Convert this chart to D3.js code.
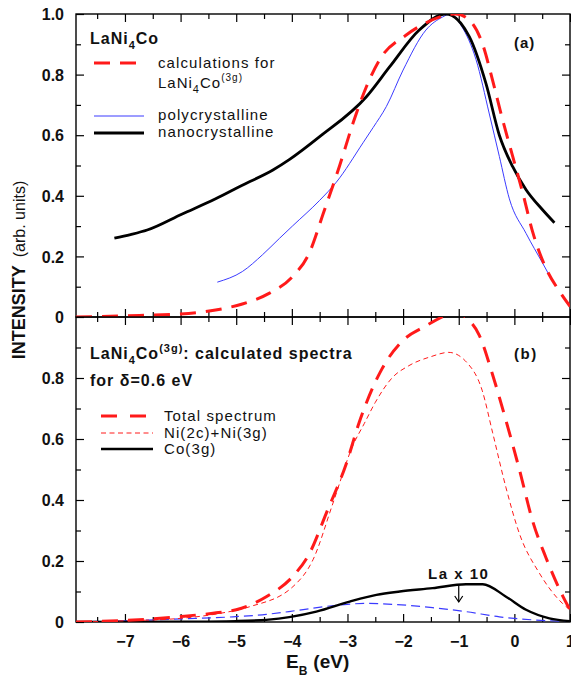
<!DOCTYPE html>
<html>
<head>
<meta charset="utf-8">
<script src="https://cdn.jsdelivr.net/npm/d3@7"></script>
<style>
  body { margin: 0; background: #fff; }
  svg text { font-family: Arial, "Liberation Sans", sans-serif; }
</style>
</head>
<body>
<div id="chart"></div>
<script>
// panel (a): measured + calculated spectra
var calcE = [-7.88, -7, -6, -5.37, -4.89, -4.41, -3.99, -3.69, -3.42, -3.14, -2.9, -2.66, -2.42, -1.95, -1.65, -1.05, -0.81, -0.57, -0.39, -0.21, -0.03, 0.15, 0.33, 0.57, 0.81, 1.0];
var calcI = [0.0, 0.004, 0.01, 0.023, 0.043, 0.078, 0.133, 0.21, 0.35, 0.50, 0.64, 0.76, 0.85, 0.93, 0.965, 1.0, 0.98, 0.90, 0.78, 0.65, 0.53, 0.41, 0.28, 0.16, 0.085, 0.035];
var polyE = [-5.34, -4.89, -4.53, -4.22, -3.99, -3.5, -3.2, -2.72, -2.54, -2.3, -2.0, -1.59, -1.29, -1.15, -0.95, -0.69, -0.45, -0.27, -0.09, 0.21, 0.51, 0.69];
var polyI = [0.115, 0.15, 0.205, 0.26, 0.30, 0.385, 0.445, 0.575, 0.625, 0.695, 0.815, 0.947, 0.99, 1.0, 0.96, 0.85, 0.67, 0.53, 0.39, 0.276, 0.177, 0.117];
var nanoE = [-7.19, -6.9, -6.6, -5.97, -5.37, -4.89, -4.34, -4.04, -3.5, -2.66, -2.24, -1.71, -1.23, -0.81, -0.51, -0.27, -0.03, 0.21, 0.51, 0.72];
var nanoI = [0.26, 0.272, 0.287, 0.34, 0.39, 0.435, 0.485, 0.52, 0.595, 0.727, 0.826, 0.947, 1.0, 0.925, 0.77, 0.60, 0.496, 0.42, 0.353, 0.311];

// panel (b): calculated spectra
var totE = [-7.88, -7, -6, -5.36, -5.0, -4.46, -3.98, -3.68, -3.38, -3.02, -2.79, -2.38, -2.02, -1.6, -1.3, -1.05, -0.88, -0.63, -0.39, -0.15, 0.09, 0.33, 0.57, 0.87, 1.0];
var totI = [0.0, 0.005, 0.018, 0.03, 0.04, 0.083, 0.15, 0.226, 0.357, 0.52, 0.654, 0.83, 0.92, 0.97, 1.0, 1.02, 1.0, 0.94, 0.81, 0.66, 0.50, 0.33, 0.21, 0.085, 0.04];
var niE = [-7.88, -7, -6, -5.3, -4.76, -3.98, -3.62, -3.26, -2.9, -2.7, -2.5, -2.2, -1.9, -1.5, -1.18, -0.85, -0.58, -0.39, -0.15, 0.09, 0.45, 0.87, 1.0];
var niI = [0, 0.004, 0.012, 0.028, 0.05, 0.116, 0.204, 0.39, 0.58, 0.65, 0.72, 0.80, 0.84, 0.87, 0.884, 0.85, 0.76, 0.62, 0.44, 0.29, 0.16, 0.06, 0.04];
var coE = [-7.88, -6, -5, -4.46, -3.56, -2.96, -2.48, -2.06, -1.47, -0.87, -0.57, -0.15, 0.21, 0.63, 1.0];
var coI = [0, 0.001, 0.003, 0.007, 0.034, 0.067, 0.089, 0.10, 0.111, 0.124, 0.124, 0.083, 0.04, 0.012, 0.003];
var laE = [-7.88, -7, -6, -5.06, -4.46, -3.86, -3.14, -2.66, -2.19, -1.47, -0.87, -0.27, 0.33, 1.0];
var laI = [0, 0.004, 0.01, 0.017, 0.025, 0.039, 0.056, 0.061, 0.058, 0.047, 0.034, 0.017, 0.007, 0.002];

var xTicks = [-7, -6, -5, -4, -3, -2, -1, 0, 1];
var yTicksA = [0, 0.2, 0.4, 0.6, 0.8, 1.0];
var yTicksB = [0, 0.2, 0.4, 0.6, 0.8];

var width = 571, height = 682;
var pLeft = 76, pRight = 570, pTop = 14, pMid = 317, pBottom = 622;
var RED = '#ff1a1a', BLUE = '#3b3bff';
var BIGDASH = '16,10', DOTS = '5,3.5', BLUEDASH = '9,5';

var svg = d3.select('#chart').append('svg')
  .attr('width', width)
  .attr('height', height);

var x = d3.scaleLinear().domain([-7.88, 1]).range([pLeft, pRight]);
var yA = d3.scaleLinear().domain([0, 1.0]).range([pMid, pTop]);
var yB = d3.scaleLinear().domain([0, 1.0]).range([pBottom, pMid]);

function zip(a, b) { return a.map(function(d, i) { return [d, b[i]]; }); }

svg.append('clipPath').attr('id', 'clipA').append('rect')
  .attr('x', pLeft).attr('y', pTop).attr('width', pRight - pLeft).attr('height', pMid - pTop);
svg.append('clipPath').attr('id', 'clipB').append('rect')
  .attr('x', pLeft).attr('y', pMid).attr('width', pRight - pLeft).attr('height', pBottom - pMid);

function noDomain(a) { a.select('.domain').remove(); }

function drawPanel(y, yTicks, clip, withXLabels) {
  var g = svg.append('g');
  var y0 = y.range()[1], y1 = y.range()[0];
  var minorX = d3.range(-7.5, 1, 1);
  var minorY = [0.1, 0.3, 0.5, 0.7, 0.9];
  // bottom and top ticks, pointing inside
  g.append('g').attr('transform', 'translate(0,' + y1 + ')')
    .call(d3.axisBottom(x).tickValues(xTicks).tickSize(-8).tickPadding(14)
      .tickFormat(withXLabels ? d3.format('d') : ''))
    .call(noDomain);
  g.append('g').attr('transform', 'translate(0,' + y1 + ')')
    .call(d3.axisBottom(x).tickValues(minorX).tickSize(-5).tickFormat('')).call(noDomain);
  g.append('g').attr('transform', 'translate(0,' + y0 + ')')
    .call(d3.axisTop(x).tickValues(xTicks).tickSize(-8).tickFormat('')).call(noDomain);
  g.append('g').attr('transform', 'translate(0,' + y0 + ')')
    .call(d3.axisTop(x).tickValues(minorX).tickSize(-5).tickFormat('')).call(noDomain);
  // left / right ticks
  var yl = g.append('g').attr('transform', 'translate(' + pLeft + ',0)')
    .call(d3.axisLeft(y).tickValues(yTicks).tickSize(-8).tickPadding(12)
      .tickFormat(function(d) { return d === 0 ? '0' : d3.format('.1f')(d); }))
    .call(noDomain);
  yl.selectAll('text').attr('dy', '0.36em');
  g.append('g').attr('transform', 'translate(' + pLeft + ',0)')
    .call(d3.axisLeft(y).tickValues(minorY).tickSize(-5).tickFormat('')).call(noDomain);
  g.append('g').attr('transform', 'translate(' + pRight + ',0)')
    .call(d3.axisRight(y).tickValues([0.2, 0.4, 0.6, 0.8]).tickSize(-8).tickFormat('')).call(noDomain);
  g.append('g').attr('transform', 'translate(' + pRight + ',0)')
    .call(d3.axisRight(y).tickValues(minorY).tickSize(-5).tickFormat('')).call(noDomain);
  g.selectAll('.tick line').attr('stroke', '#000').attr('stroke-width', 1.2);
  g.selectAll('.tick text').attr('font-size', 16).attr('font-weight', 'bold').attr('fill', '#111');
  g.append('rect').attr('x', pLeft).attr('y', y0).attr('width', pRight - pLeft).attr('height', y1 - y0)
    .attr('fill', 'none').attr('stroke', '#000').attr('stroke-width', 1.4);
  return g.append('g').attr('clip-path', 'url(#' + clip + ')');
}

var plotA = drawPanel(yA, yTicksA, 'clipA', false);
var plotB = drawPanel(yB, yTicksB, 'clipB', true);

function addLine(g, y, ex, iy, color, w, dash) {
  var line = d3.line().x(function(d) { return x(d[0]); }).y(function(d) { return y(d[1]); })
    .curve(d3.curveMonotoneX);
  g.append('path').datum(zip(ex, iy))
    .attr('d', line).attr('fill', 'none')
    .attr('stroke', color).attr('stroke-width', w)
    .attr('stroke-dasharray', dash || null)
    .attr('stroke-linejoin', 'round');
}

// panel (a)
addLine(plotA, yA, polyE, polyI, BLUE, 1, null);
addLine(plotA, yA, nanoE, nanoI, '#000', 2.8, null);
addLine(plotA, yA, calcE, calcI, RED, 3, BIGDASH);

// panel (b)
addLine(plotB, yB, laE, laI, BLUE, 1.2, BLUEDASH);
addLine(plotB, yB, coE, coI, '#000', 2.4, null);
addLine(plotB, yB, niE, niI, RED, 1, DOTS);
addLine(plotB, yB, totE, totI, RED, 3, BIGDASH);

function label(x0, y0, size, weight, ls) {
  return svg.append('text').attr('x', x0).attr('y', y0)
    .attr('font-size', size).attr('font-weight', weight).attr('fill', '#111')
    .attr('letter-spacing', ls || 0);
}
function sub(t, s, size) { t.append('tspan').attr('font-size', size).attr('dy', 5).text(s); }

// legend (a)
var t = label(90, 44, 16, 'bold', 1);
t.append('tspan').text('LaNi');
sub(t, '4', 11);
t.append('tspan').attr('dy', -5).text('Co');

svg.append('line').attr('x1', 94).attr('x2', 136).attr('y1', 63).attr('y2', 63)
  .attr('stroke', RED).attr('stroke-width', 3).attr('stroke-dasharray', BIGDASH);
label(158, 68, 15, 'normal', 1.1).text('calculations for');
t = label(158, 88, 15, 'normal', 1);
t.append('tspan').text('LaNi');
sub(t, '4', 11);
t.append('tspan').attr('dy', -5).text('Co');
t.append('tspan').attr('font-size', 10).attr('dy', -7).text('(3g)');

svg.append('line').attr('x1', 94).attr('x2', 144).attr('y1', 116).attr('y2', 116)
  .attr('stroke', BLUE).attr('stroke-width', 1);
label(158, 120, 15, 'normal', 1.1).text('polycrystalline');
svg.append('line').attr('x1', 94).attr('x2', 144).attr('y1', 133).attr('y2', 133)
  .attr('stroke', '#000').attr('stroke-width', 2.8);
label(158, 137, 15, 'normal', 1.1).text('nanocrystalline');
label(514, 48, 15, 'bold', 1).text('(a)');

// legend (b)
t = label(90, 359, 16, 'bold', 1);
t.append('tspan').text('LaNi');
sub(t, '4', 11);
t.append('tspan').attr('dy', -5).text('Co');
t.append('tspan').attr('font-size', 11).attr('dy', -7).text('(3g)');
t.append('tspan').attr('dy', 7).text(': calculated spectra');
label(90, 386, 16, 'bold', 1).text('for \u03b4=0.6 eV');
label(514, 359, 15, 'bold', 1.5).text('(b)');

svg.append('line').attr('x1', 101).attr('x2', 147).attr('y1', 416).attr('y2', 416)
  .attr('stroke', RED).attr('stroke-width', 3).attr('stroke-dasharray', '16,13');
label(164, 421, 15, 'normal', 1.1).text('Total spectrum');
svg.append('line').attr('x1', 101).attr('x2', 153).attr('y1', 433).attr('y2', 433)
  .attr('stroke', RED).attr('stroke-width', 1).attr('stroke-dasharray', DOTS);
label(164, 438, 15, 'normal', 1.1).text('Ni(2c)+Ni(3g)');
svg.append('line').attr('x1', 101).attr('x2', 153).attr('y1', 449).attr('y2', 449)
  .attr('stroke', '#000').attr('stroke-width', 2.4);
label(164, 454, 15, 'normal', 1.1).text('Co(3g)');

// La x 10 annotation
label(x(-1), 579, 15, 'bold', 1.5).attr('text-anchor', 'middle').text('La x 10');
svg.append('line').attr('x1', x(-1)).attr('x2', x(-1)).attr('y1', 585).attr('y2', 602)
  .attr('stroke', '#000').attr('stroke-width', 1.2);
svg.append('path').attr('d', 'M' + (x(-1) - 4) + ',596 L' + x(-1) + ',602 L' + (x(-1) + 4) + ',596')
  .attr('fill', 'none').attr('stroke', '#000').attr('stroke-width', 1.2);

// axis titles
t = svg.append('text').attr('transform', 'translate(25,270) rotate(-90)')
  .attr('text-anchor', 'middle').attr('fill', '#111');
t.append('tspan').attr('font-size', 18).attr('font-weight', 'bold').text('INTENSITY');
t.append('tspan').attr('font-size', 16).attr('dx', 8).text('(arb. units)');

t = label(286, 668, 19, 'bold', 0);
t.append('tspan').text('E');
t.append('tspan').attr('font-size', 12).attr('dy', 7).text('B');
t.append('tspan').attr('dy', -7).attr('dx', 6).text('(eV)');
</script>
</body>
</html>
